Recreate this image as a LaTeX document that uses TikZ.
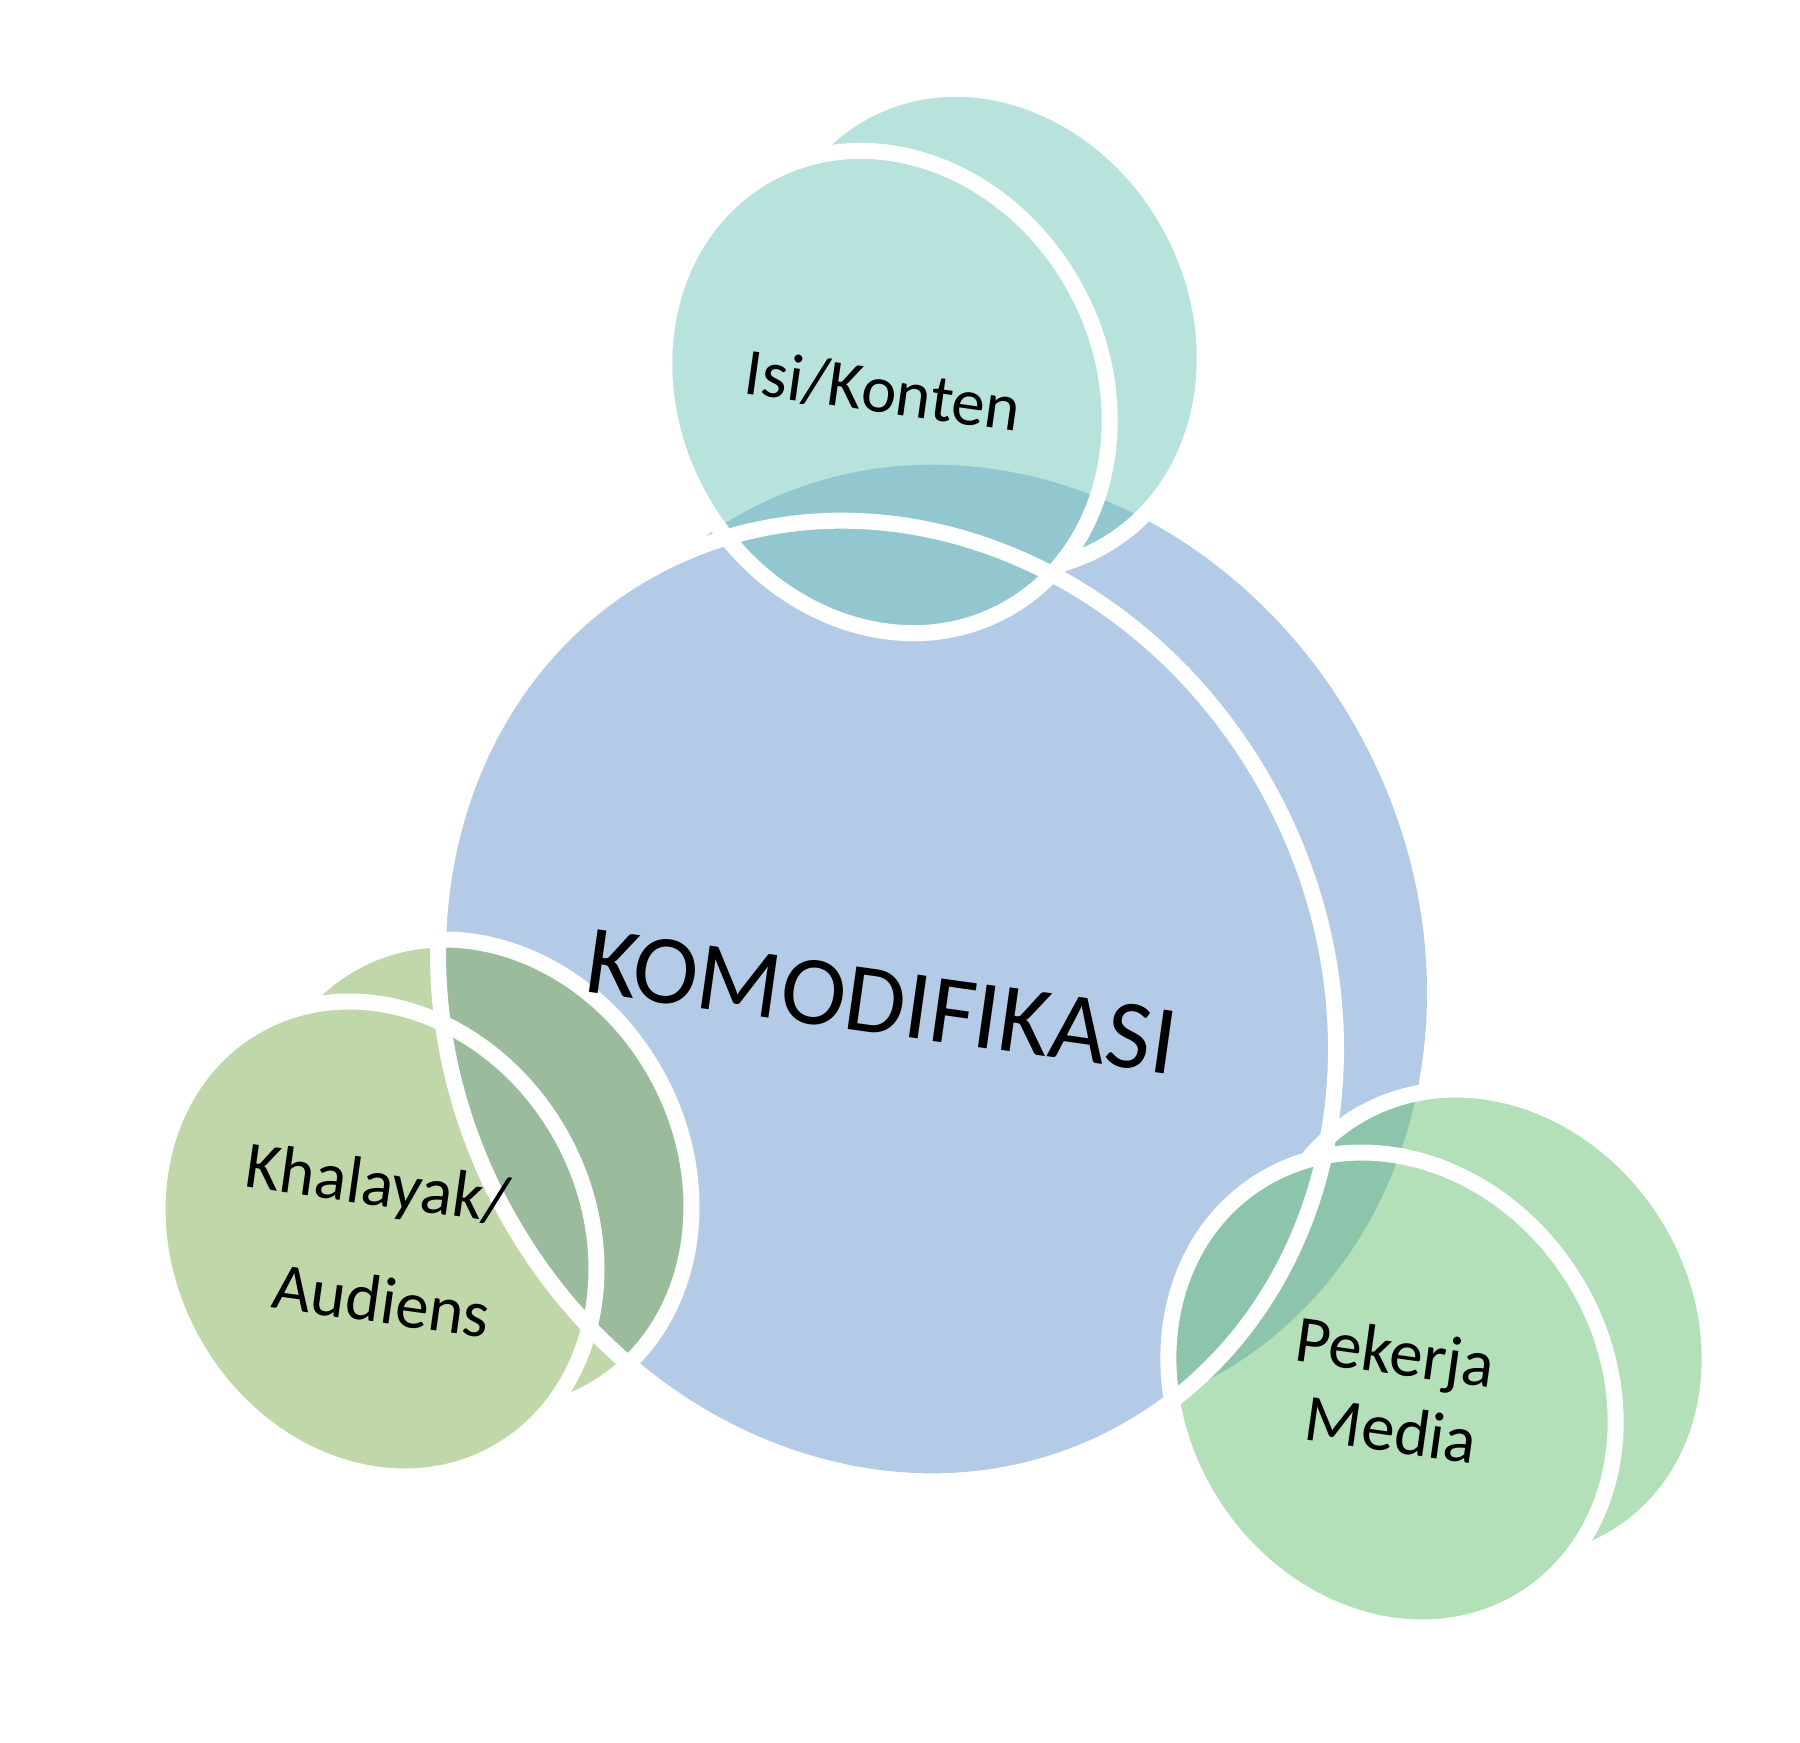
\documentclass[tikz,border=0pt]{standalone}
\usepackage{fontspec}
\setmainfont{Carlito}

\definecolor{komblue}{RGB}{180,203,231}
\definecolor{isiteal}{RGB}{113,197,185}
\definecolor{khalgreen}{RGB}{129,175,83}
\definecolor{pekgreen}{RGB}{103,191,115}

\tikzset{
  face/.style={fill opacity=0.5},
  rim/.style={draw=white, line width=1.6mm},
  lbl/.style={text=black, align=center, rotate=-8, font=\fontsize{19}{22}\selectfont},
}

\begin{document}
\begin{tikzpicture}[x=0.1mm, y=0.1mm]
  \useasboundingbox (0,0) rectangle (1800,-1742);
  % Komodifikasi disc (back face and front face)
  \fill[komblue] (978,-945) ellipse [x radius=492, y radius=436, rotate=-62]
                 (887,-1001) ellipse [x radius=492, y radius=436, rotate=-62];
  % Isi/Konten disc
  \fill[isiteal, face] (982,-330) ellipse [x radius=248, y radius=215, rotate=-62]
                       (887,-392) ellipse [x radius=248, y radius=215, rotate=-62];
  % Khalayak disc
  \fill[khalgreen, face] (472,-1177) ellipse [x radius=245, y radius=211, rotate=-61]
                         (377,-1239) ellipse [x radius=245, y radius=211, rotate=-61];
  % Pekerja disc
  \fill[pekgreen, face] (1486,-1327) ellipse [x radius=247, y radius=213, rotate=-57]
                        (1392,-1390) ellipse [x radius=247, y radius=213, rotate=-57];

  % back rims, only where the front face does not hide them
  \begin{scope}[even odd rule]
    \clip (0,0) -- (1800,0) -- (1800,-1742) -- (0,-1742) -- cycle
      (887,-392) ellipse [x radius=248, y radius=215, rotate=-62];
    \draw[rim] (982,-330) ellipse [x radius=248, y radius=215, rotate=-62];
  \end{scope}
  \begin{scope}[even odd rule]
    \clip (0,0) -- (1800,0) -- (1800,-1742) -- (0,-1742) -- cycle
      (377,-1239) ellipse [x radius=245, y radius=211, rotate=-61];
    \draw[rim] (472,-1177) ellipse [x radius=245, y radius=211, rotate=-61];
  \end{scope}
  \begin{scope}[even odd rule]
    \clip (0,0) -- (1800,0) -- (1800,-1742) -- (0,-1742) -- cycle
      (1392,-1390) ellipse [x radius=247, y radius=213, rotate=-57];
    \draw[rim] (1486,-1327) ellipse [x radius=247, y radius=213, rotate=-57];
  \end{scope}

  % front rims
  \draw[rim] (887,-1001) ellipse [x radius=492, y radius=436, rotate=-62];
  \draw[rim] (887,-392) ellipse [x radius=248, y radius=215, rotate=-62];
  \draw[rim] (377,-1239) ellipse [x radius=245, y radius=211, rotate=-61];
  \draw[rim] (1392,-1390) ellipse [x radius=247, y radius=213, rotate=-57];

  % labels
  \node[lbl, font=\fontsize{28}{34}\selectfont] (komodifikasi) at (882,-1002) {KOMODIFIKASI};
  \node[lbl] (isi) at (883,-391) {Isi/Konten};
  \node[lbl] (khalayak) at (370,-1240) {Khalayak/\\[11pt]\hspace*{0.6em}Audiens};
  \node[lbl] (pekerja) at (1390,-1390) {Pekerja\\\hspace*{0.2em}Media};
\end{tikzpicture}
\end{document}
